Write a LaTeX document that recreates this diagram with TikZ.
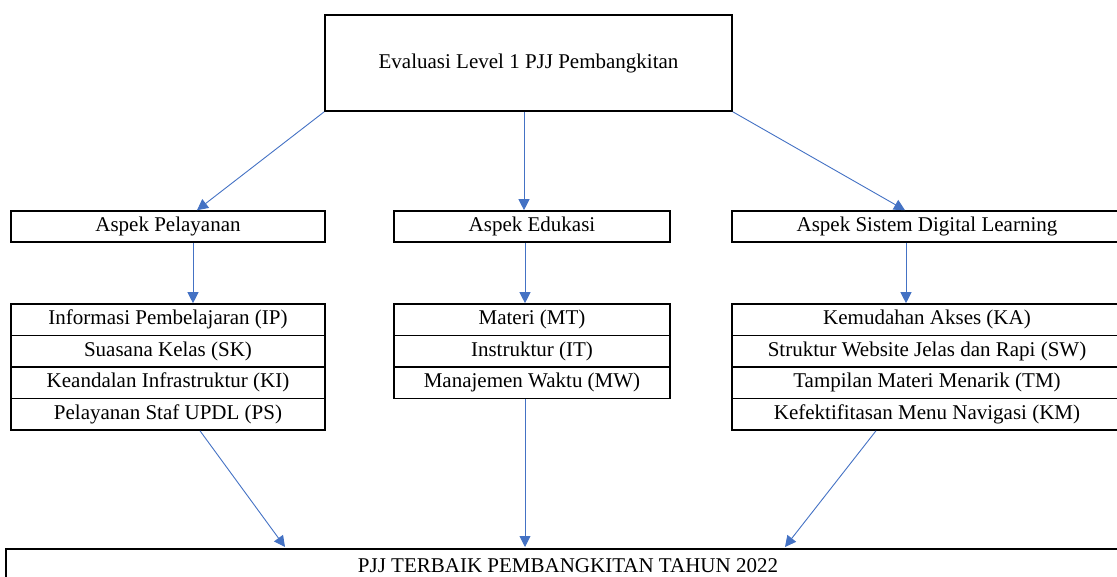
\documentclass[tikz,border=0pt]{standalone}
\usepackage{fontspec}
\setmainfont{Liberation Serif}
\usetikzlibrary{arrows.meta}
\tikzset{
  box/.style={draw, line width=1.6pt, rectangle, inner sep=0pt, font=\fontsize{21}{24}\selectfont, text=black},
  arr/.style={draw={rgb,255:red,68;green,114;blue,196}, line width=0.9pt, -{Triangle[length=11pt,width=11pt]}, color={rgb,255:red,68;green,114;blue,196}},
}
\begin{document}
\begin{tikzpicture}[x=1pt,y=-1pt]
\useasboundingbox (0,0) rectangle (1117,577);
% top
\node[box, minimum width=407pt, minimum height=96pt] (top) at (528.5,63) {Evaluasi Level 1 PJJ Pembangkitan};
% aspects
\node[box, minimum width=314pt, minimum height=31pt] (ap) at (168,226.5) {Aspek Pelayanan};
\node[box, minimum width=276pt, minimum height=31pt] (ae) at (532,226.5) {Aspek Edukasi};
\node[box, minimum width=390pt, minimum height=31pt] (as) at (927,226.5) {Aspek Sistem Digital Learning};
% lists
\node[box, minimum width=314pt, minimum height=31.5pt] (p1) at (168,319.75) {Informasi Pembelajaran (IP)};
\node[box, minimum width=314pt, minimum height=31.5pt] (p2) at (168,351.25) {Suasana Kelas (SK)};
\node[box, minimum width=314pt, minimum height=31.5pt] (p3) at (168,382.75) {Keandalan Infrastruktur (KI)};
\node[box, minimum width=314pt, minimum height=31.5pt] (p4) at (168,414.25) {Pelayanan Staf UPDL (PS)};
\node[box, minimum width=276pt, minimum height=31.5pt] (e1) at (532,319.75) {Materi (MT)};
\node[box, minimum width=276pt, minimum height=31.5pt] (e2) at (532,351.25) {Instruktur (IT)};
\node[box, minimum width=276pt, minimum height=31.5pt] (e3) at (532,382.75) {Manajemen Waktu (MW)};
\node[box, minimum width=390pt, minimum height=31.5pt] (s1) at (927,319.75) {Kemudahan Akses (KA)};
\node[box, minimum width=390pt, minimum height=31.5pt] (s2) at (927,351.25) {Struktur Website Jelas dan Rapi (SW)};
\node[box, minimum width=390pt, minimum height=31.5pt] (s3) at (927,382.75) {Tampilan Materi Menarik (TM)};
\node[box, minimum width=390pt, minimum height=31.5pt] (s4) at (927,414.25) {Kefektifitasan Menu Navigasi (KM)};
% bottom
\node[box, minimum width=1130pt, minimum height=40pt, anchor=north west] (bot) at (5,548) {};
\node[font=\fontsize{21}{24}\selectfont, inner sep=0pt] (bt) at (568,566) {PJJ TERBAIK PEMBANGKITAN TAHUN 2022};
\coordinate (b1) at (285,547);
\coordinate (b2) at (525,547);
\coordinate (b3) at (785,547);
% arrows
\draw[arr] (top.south west) -- ([xshift=29pt]ap.north);
\draw[arr] ([xshift=-4.5pt]top.south) -- ([xshift=-8pt]ae.north);
\draw[arr] (top.south east) -- ([xshift=-22pt]as.north);
\draw[arr] ([xshift=25pt]ap.south) -- ([xshift=25pt]p1.north);
\draw[arr] ([xshift=-7pt]ae.south) -- ([xshift=-7pt]e1.north);
\draw[arr] ([xshift=-21pt]as.south) -- ([xshift=-21pt]s1.north);
\draw[arr] ([xshift=32pt]p4.south) -- (b1);
\draw[arr] ([xshift=-7pt]e3.south) -- (b2);
\draw[arr] ([xshift=-51pt]s4.south) -- (b3);
\end{tikzpicture}
\end{document}
